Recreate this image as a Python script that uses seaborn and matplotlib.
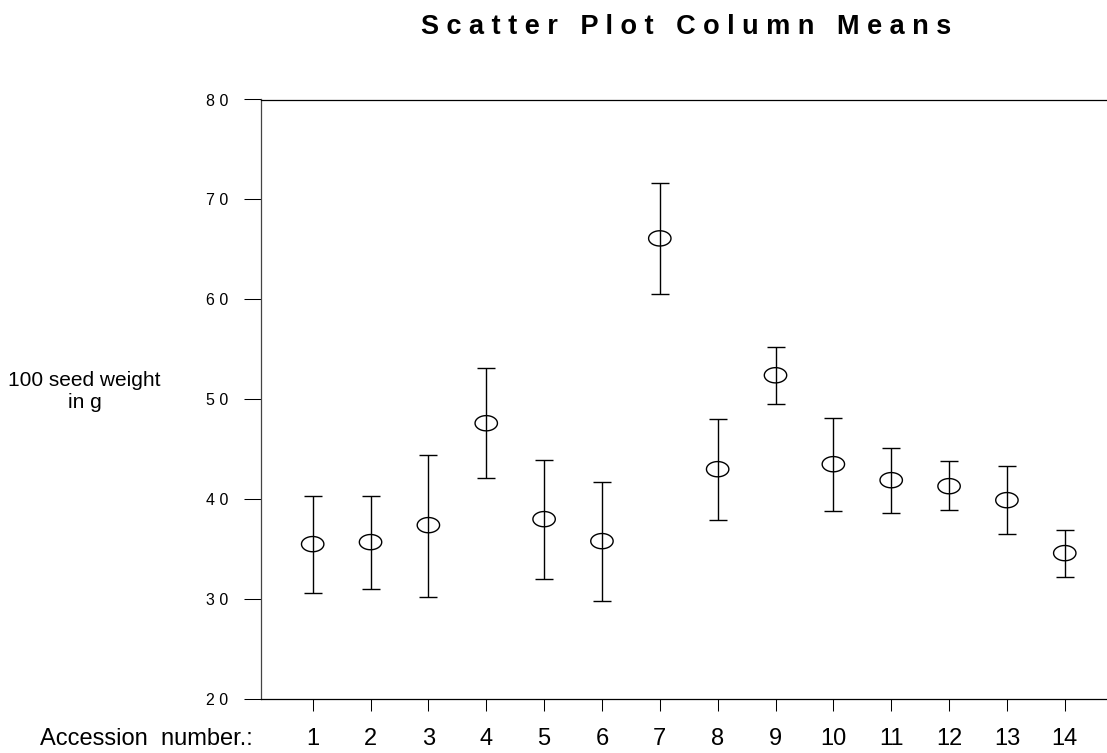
import numpy as np
import pandas as pd
import matplotlib
matplotlib.use("Agg")
import matplotlib.pyplot as plt
from matplotlib.path import Path
import seaborn as sns

# Accession means of 100-seed weight (g) with lower / upper interval limits
accessions = list(range(1, 15))
means = [35.5, 35.7, 37.4, 47.6, 38.0, 35.8, 66.1, 43.0, 52.4, 43.5, 41.9, 41.3, 39.9, 34.6]
lower = [30.6, 31.05, 30.25, 42.1, 32.0, 29.8, 60.5, 37.9, 49.5, 38.8, 38.6, 38.9, 36.5, 32.2]
upper = [40.35, 40.3, 44.45, 53.1, 43.95, 41.75, 71.65, 48.05, 55.25, 48.15, 45.15, 43.8, 43.3, 36.95]
y_ticks = [20, 30, 40, 50, 60, 70, 80]

df = pd.DataFrame({"accession": accessions, "mean": means, "lower": lower, "upper": upper})

sns.set_theme(style="white")
plt.rcParams["font.family"] = ["Liberation Sans", "DejaVu Sans"]
plt.rcParams["text.color"] = "black"
plt.rcParams["xtick.color"] = "black"
plt.rcParams["ytick.color"] = "black"
plt.rcParams["xtick.labelcolor"] = "black"
plt.rcParams["ytick.labelcolor"] = "black"

fig = plt.figure(figsize=(11.07, 7.53), dpi=100)
ax = fig.add_axes([260.5 / 1107, 54 / 753, (1107 - 260.5) / 1107, 599.5 / 753])

# error bars around each mean
ax.errorbar(df["accession"], df["mean"],
            yerr=[df["mean"] - df["lower"], df["upper"] - df["mean"]],
            fmt="none", ecolor="black", elinewidth=1.0, capsize=6.2, capthick=1.0, zorder=2)

# open elliptical markers for the means
theta = np.linspace(0, 2 * np.pi, 60)
ellipse = Path(np.column_stack([np.cos(theta), 0.68 * np.sin(theta)]), closed=True)
sns.scatterplot(data=df, x="accession", y="mean", ax=ax, marker=ellipse, s=260,
                facecolor="none", edgecolor="black", linewidth=1.0, zorder=3)

ax.set_xlim(0.098, 14.73)
ax.set_ylim(20, 80)
ax.set_xticks(accessions)
ax.set_xticklabels([str(a) for a in accessions], fontsize=17, color="black")
ax.set_yticks(y_ticks)
ax.set_yticklabels([" ".join(str(v)) for v in y_ticks], fontsize=11.5, color="black")
ax.set_xlabel("")
ax.set_ylabel("")

ax.tick_params(axis="x", direction="out", length=8.6, width=0.75, color="black", pad=12.5, bottom=True)
ax.tick_params(axis="y", direction="out", length=12.2, width=0.75, color="black", pad=10.8, left=True)

for side in ["left", "bottom", "top"]:
    ax.spines[side].set_visible(True)
    ax.spines[side].set_linewidth(0.9)
    ax.spines[side].set_color("black")
ax.spines["left"].set_color("#444444")
ax.spines["right"].set_visible(False)
ax.grid(False)

fig.text(686 / 1107, 1 - 34 / 753, "S c a t t e r   P l o t   C o l u m n   M e a n s",
         ha="center", va="baseline", fontsize=19.5, fontweight="bold", color="black")
fig.text(84.5 / 1107, 1 - 391 / 753, "100 seed weight\nin g", ha="center", va="center",
         multialignment="center", fontsize=15, color="black")
fig.text(40 / 1107, 1 - 745 / 753, "Accession  number.:", ha="left", va="baseline",
         fontsize=17, color="black")

fig.savefig("out.png", dpi=100)
